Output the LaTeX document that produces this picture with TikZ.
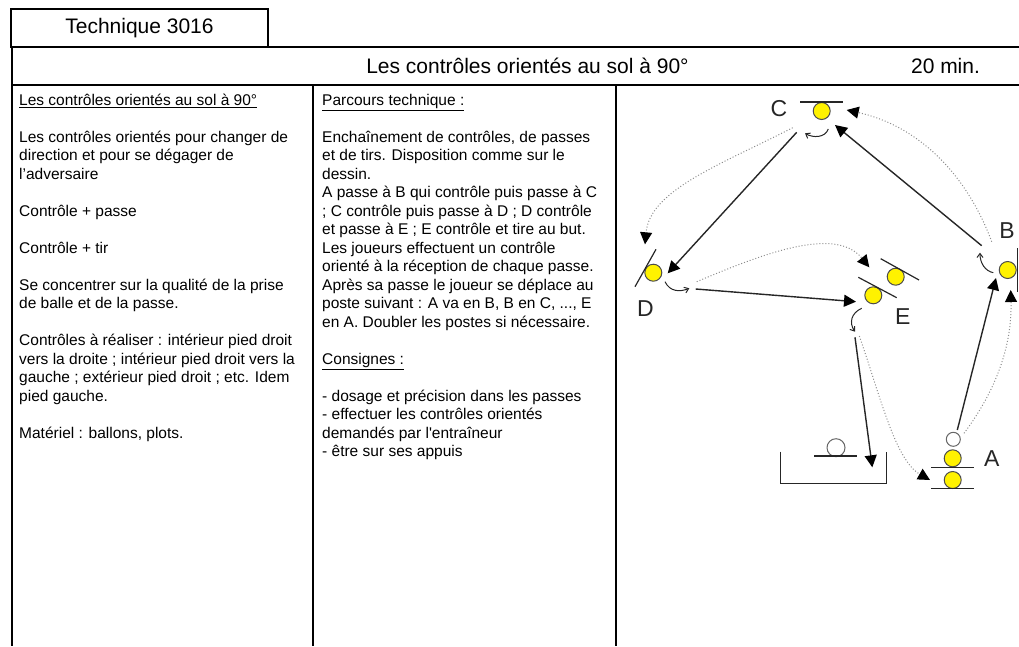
\documentclass[tikz,border=0pt]{standalone}
\usepackage{fontspec}
\setmainfont{Liberation Sans}[Ligatures=TeXOff]
\usetikzlibrary{arrows.meta}

\tikzset{
	player/.style={circle,draw=black!70,fill=yellow,line width=1pt,minimum size=17pt,inner sep=0pt},
	ghost/.style={circle,draw=black!60,fill=white,line width=1pt,inner sep=0pt},
	letter/.style={font=\fontsize{23}{23}\selectfont,text=black!85,inner sep=0pt},
	head/.style={font=\fontsize{21}{21}\selectfont,inner sep=0pt},
	column/.style={font=\fontsize{15.5}{18.5}\selectfont,align=left,anchor=north west,inner sep=0pt},
	frame/.style={line width=2pt},
	wall/.style={line width=1.2pt,black!85},
	pass line/.style={line width=1.4pt,black!85,-{Triangle[length=12pt,width=12pt,black]}},
	run line/.style={line width=1pt,black!45,dotted,-{Triangle[length=12pt,width=12pt,black]}},
	turn line/.style={line width=1pt,black!85,-{Straight Barb[length=4pt,width=6pt]}}
}

\begin{document}
\begin{tikzpicture}[x=1pt,y=-1pt]

	\useasboundingbox (0,0) rectangle (1019,646);

	\node[frame,draw,minimum width=257pt,minimum height=38pt,inner sep=0pt] (tech) at (139.5,28) {};
	\node[head] (techtext) at (139.5,28) {Technique 3016};
	\node[head] (title) at (527.5,66) {Les contrôles orientés au sol à 90°};
	\node[head] (time) at (945.5,66) {20 min.};

	\draw[line width=1.5pt] (268,47) -- (1019,47);
	\draw[frame] (11.5,47) -- (11.5,646);
	\draw[frame] (11,85) -- (1019,85);
	\draw[frame] (313,85) -- (313,646);
	\draw[frame] (616,85) -- (616,646);

	\node[column] (left) at (19,92) {\strut\underline{Les contrôles orientés au sol à 90°}\\[18.5pt]
		Les contrôles orientés pour changer de\\
		direction et pour se dégager de\\
		l’adversaire\\[18.5pt]
		Contrôle + passe\\[18.5pt]
		Contrôle + tir\\[18.5pt]
		Se concentrer sur la qualité de la prise\\
		de balle et de la passe.\\[18.5pt]
		Contrôles à réaliser : intérieur pied droit\\
		vers la droite ; intérieur pied droit vers la\\
		gauche ; extérieur pied droit ; etc. Idem\\
		pied gauche.\\[18.5pt]
		Matériel : ballons, plots.};

	\node[column] (middle) at (322,92) {\strut\underline{Parcours technique :}\\[18.5pt]
		Enchaînement de contrôles, de passes\\
		et de tirs. Disposition comme sur le\\
		dessin.\\
		A passe à B qui contrôle puis passe à C\\
		; C contrôle puis passe à D ; D contrôle\\
		et passe à E ; E contrôle et tire au but.\\
		Les joueurs effectuent un contrôle\\
		orienté à la réception de chaque passe.\\
		Après sa passe le joueur se déplace au\\
		poste suivant : A va en B, B en C, ..., E\\
		en A. Doubler les postes si nécessaire.\\[18.5pt]
		\underline{Consignes :}\\[18.5pt]
		- dosage et précision dans les passes\\
		- effectuer les contrôles orientés\\
		demandés par l'entraîneur\\
		- être sur ses appuis};

	\node[player] (pA) at (952.7,458.3) {};
	\node[player] (pAbis) at (952.7,480) {};
	\node[player] (pB) at (1007.7,270) {};
	\node[player] (pC) at (821.7,111) {};
	\node[player] (pD) at (653.3,272.7) {};
	\node[player] (pE) at (873.3,295.3) {};
	\node[player] (pEbis) at (895.7,276.7) {};
	\node[ghost,minimum size=14pt] (ballA) at (953.3,439.3) {};
	\node[ghost,minimum size=18pt] (ballgoal) at (836,447.7) {};

	\node[letter] (lA) at (991.7,459) {A};
	\node[letter] (lB) at (1007,231) {B};
	\node[letter] (lC) at (779,109) {C};
	\node[letter] (lD) at (645.3,309) {D};
	\node[letter] (lE) at (902.7,316.7) {E};

	\draw[wall] (931,467.7) -- (974.3,467.7);
	\draw[wall] (931,488.3) -- (974.3,488.3);
	\draw[wall] (1017.5,248) -- (1017.5,292);
	\draw[wall] (800,102) -- (843,102);
	\draw[wall] (656,249.3) -- (635,286.7);
	\draw[wall] (858.3,277.3) -- (896.7,297.7);
	\draw[wall] (880.7,258.7) -- (919,280);
	\draw[wall] (814.3,456) -- (857.3,456);
	\draw[wall] (780.7,451.7) -- (780.7,483.3) -- (886.7,483.3) -- (886.7,451.7);

	\coordinate (shootfrom) at (855,337.3);
	\coordinate (shootto) at (872.3,467.3);
	\coordinate (AoutB) at (957.3,430);
	\coordinate (BinA) at (996,278);
	\coordinate (BoutC) at (981.7,245.7);
	\coordinate (CinB) at (835,125);
	\coordinate (CoutD) at (796.7,132.3);
	\coordinate (DinC) at (667.7,273.3);
	\coordinate (DoutE) at (695.7,289);
	\coordinate (EinD) at (856,301.7);

	\draw[pass line] (AoutB) -- (BinA);
	\draw[pass line] (BoutC) -- (CinB);
	\draw[pass line] (CoutD) -- (DinC);
	\draw[pass line] (DoutE) -- (EinD);
	\draw[pass line] (shootfrom) -- (shootto);

	\coordinate (runAfrom) at (964,433.3);
	\coordinate (runAto) at (1010.7,290);
	\coordinate (runBfrom) at (991.7,241.7);
	\coordinate (runBto) at (846.7,110);
	\coordinate (runCfrom) at (792.7,127.7);
	\coordinate (runCto) at (645,244.3);
	\coordinate (runDfrom) at (696.7,281.7);
	\coordinate (runDto) at (869.3,267.3);
	\coordinate (runEfrom) at (859.3,336);
	\coordinate (runEto) at (930,480);

	\draw[run line] (runAfrom) .. controls (1000,385) and (1012,340) .. (runAto);
	\draw[run line] (runBfrom) .. controls (965,170) and (915,125) .. (runBto);
	\draw[run line] (runCfrom) .. controls (720,165) and (650,190) .. (runCto);
	\draw[run line] (runDfrom) .. controls (760,255) and (835,225) .. (runDto);
	\draw[run line] (runEfrom) .. controls (880,395) and (895,460) .. (runEto);

	\coordinate (turnBfrom) at (993.3,272.7);
	\coordinate (turnBto) at (980,252.7);
	\coordinate (turnCfrom) at (828.3,129);
	\coordinate (turnCto) at (805,133.3);
	\coordinate (turnDfrom) at (665,281.7);
	\coordinate (turnDto) at (689.3,288.3);
	\coordinate (turnEfrom) at (861.7,308.3);
	\coordinate (turnEto) at (855,331.7);

	\draw[turn line] (turnBfrom) .. controls (985,271) and (980,263) .. (turnBto);
	\draw[turn line] (turnCfrom) .. controls (825,138) and (813,138) .. (turnCto);
	\draw[turn line] (turnDfrom) .. controls (670,292) and (680,292) .. (turnDto);
	\draw[turn line] (turnEfrom) .. controls (851,313) and (849,323) .. (turnEto);

\end{tikzpicture}
\end{document}
